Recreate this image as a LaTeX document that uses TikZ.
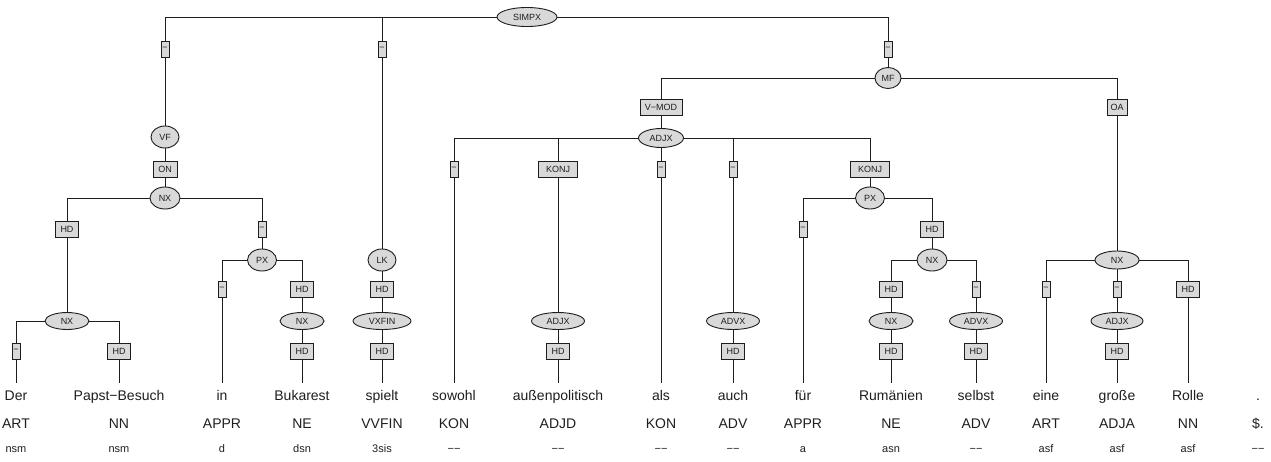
\documentclass[tikz,border=0pt]{standalone}
\usepackage{fontspec}
\setmainfont{Liberation Sans}
\usetikzlibrary{shapes.geometric}
\definecolor{nodefill}{HTML}{D9D9D9}
\definecolor{ink}{HTML}{1E1E1E}
\tikzset{
  cat/.style 2 args={ellipse, draw=ink, fill=nodefill, line width=0.9pt,
    minimum width=#1 pt, minimum height=#2 pt, inner sep=0pt,
    font=\fontsize{9}{10}\selectfont, text=ink},
  fn/.style={rectangle, draw=ink, fill=nodefill, line width=1pt,
    minimum width=#1 pt, minimum height=16pt, inner sep=0pt,
    font=\fontsize{9}{10}\selectfont, text=ink},
  wordnode/.style={anchor=base, inner sep=0pt, text height=17pt, text depth=0pt,
    font=\fontsize{14}{16}\selectfont, text=ink},
  posnode/.style={anchor=base, inner sep=0pt, font=\fontsize{14}{16}\selectfont, text=ink},
  morphnode/.style={anchor=base, inner sep=0pt, font=\fontsize{11}{13}\selectfont, text=ink},
  conn/.style={draw=ink, line width=0.9pt}
}
\begin{document}
\begin{tikzpicture}[x=1pt,y=-1pt]
\useasboundingbox (0,0) rectangle (1271,461);

% words, POS, morphology
\foreach \n/\x/\w/\p/\m in {
  1/16/Der/ART/nsm,
  2/119/Papst−Besuch/NN/nsm,
  3/222/in/APPR/d,
  4/302/Bukarest/NE/dsn,
  5/382/spielt/VVFIN/3sis,
  6/454/sowohl/KON/−−,
  7/558/außenpolitisch/ADJD/−−,
  8/661/als/KON/−−,
  9/733/auch/ADV/−−,
  10/803/für/APPR/a,
  11/891/Rumänien/NE/asn,
  12/976/selbst/ADV/−−,
  13/1046/eine/ART/asf,
  14/1117/große/ADJA/asf,
  15/1188/Rolle/NN/asf,
  16/1258/./{\$.}/−−}{
  \node[wordnode] (w\n) at (\x,400) {\w};
  \node[posnode] (p\n) at (\x,428) {\p};
  \node[morphnode] (m\n) at (\x,452) {\m};
}

% top
\node[cat={60}{19}] (s) at (527,17) {SIMPX};
\node[fn=8] (e1) at (165,49) {−};
\node[fn=8] (e2) at (382,49) {−};
\node[fn=8] (e3) at (888,49) {−};

% Vorfeld
\node[cat={28}{22}] (vf) at (165,137) {VF};
\node[fn=24] (on) at (165,169) {ON};
\node[cat={30}{22}] (nx1) at (165,198) {NX};
\node[fn=23] (hd1) at (67,229) {HD};
\node[fn=8] (e4) at (262,229) {−};
\node[cat={44}{17}] (nx2) at (67,321) {NX};
\node[fn=8] (e5) at (16,351) {−};
\node[fn=23] (hd2) at (119,351) {HD};
\node[cat={29}{22}] (px1) at (262,260) {PX};
\node[fn=8] (e6) at (222,289) {−};
\node[fn=23] (hd3) at (302,289) {HD};
\node[cat={44}{17}] (nx3) at (302,321) {NX};
\node[fn=23] (hd4) at (302,351) {HD};

% left bracket
\node[cat={28}{22}] (lk) at (382,260) {LK};
\node[fn=23] (hd5) at (382,289) {HD};
\node[cat={58}{17}] (vx) at (382,321) {VXFIN};
\node[fn=23] (hd6) at (382,351) {HD};

% Mittelfeld
\node[cat={26}{21}] (mf) at (888,78) {MF};
\node[fn=42] (vmod) at (661,107) {V−MOD};
\node[fn=20] (oa) at (1117,107) {OA};
\node[cat={45}{19}] (adjx1) at (661,138) {ADJX};
\node[fn=8] (e7) at (454,169) {−};
\node[fn=39] (k1) at (558,169) {KONJ};
\node[fn=8] (e8) at (661,169) {−};
\node[fn=8] (e9) at (733,169) {−};
\node[fn=39] (k2) at (870,169) {KONJ};
\node[cat={53}{17}] (adjx2) at (558,321) {ADJX};
\node[fn=23] (hd7) at (558,351) {HD};
\node[cat={53}{17}] (advx1) at (733,321) {ADVX};
\node[fn=23] (hd8) at (733,351) {HD};
\node[cat={29}{22}] (px2) at (870,198) {PX};
\node[fn=8] (e10) at (803,229) {−};
\node[fn=23] (hd9) at (932,229) {HD};
\node[cat={30}{22}] (nx4) at (932,260) {NX};
\node[fn=23] (hd10) at (891,289) {HD};
\node[fn=8] (e11) at (976,289) {−};
\node[cat={44}{17}] (nx5) at (891,321) {NX};
\node[fn=23] (hd11) at (891,351) {HD};
\node[cat={53}{17}] (advx2) at (976,321) {ADVX};
\node[fn=23] (hd12) at (976,351) {HD};
\node[cat={44}{18}] (nx6) at (1117,260) {NX};
\node[fn=8] (e12) at (1046,289) {−};
\node[fn=8] (e13) at (1117,289) {−};
\node[fn=23] (hd13) at (1188,289) {HD};
\node[cat={52}{17}] (adjx3) at (1117,321) {ADJX};
\node[fn=23] (hd14) at (1117,351) {HD};

% connectors
\path[conn] (s) -| (e1);
\path[conn] (s) -| (e2);
\path[conn] (s) -| (e3);
\path[conn] (e1) -- (vf);
\path[conn] (vf) -- (on);
\path[conn] (on) -- (nx1);
\path[conn] (nx1) -| (hd1);
\path[conn] (nx1) -| (e4);
\path[conn] (hd1) -- (nx2);
\path[conn] (nx2) -| (e5);
\path[conn] (nx2) -| (hd2);
\path[conn] (e5) -- (w1);
\path[conn] (hd2) -- (w2);
\path[conn] (e4) -- (px1);
\path[conn] (px1) -| (e6);
\path[conn] (px1) -| (hd3);
\path[conn] (e6) -- (w3);
\path[conn] (hd3) -- (nx3);
\path[conn] (nx3) -- (hd4);
\path[conn] (hd4) -- (w4);
\path[conn] (e2) -- (lk);
\path[conn] (lk) -- (hd5);
\path[conn] (hd5) -- (vx);
\path[conn] (vx) -- (hd6);
\path[conn] (hd6) -- (w5);
\path[conn] (e3) -- (mf);
\path[conn] (mf) -| (vmod);
\path[conn] (mf) -| (oa);
\path[conn] (vmod) -- (adjx1);
\path[conn] (adjx1) -| (e7);
\path[conn] (adjx1) -| (k1);
\path[conn] (adjx1) -- (e8);
\path[conn] (adjx1) -| (e9);
\path[conn] (adjx1) -| (k2);
\path[conn] (e7) -- (w6);
\path[conn] (k1) -- (adjx2);
\path[conn] (adjx2) -- (hd7);
\path[conn] (hd7) -- (w7);
\path[conn] (e8) -- (w8);
\path[conn] (e9) -- (advx1);
\path[conn] (advx1) -- (hd8);
\path[conn] (hd8) -- (w9);
\path[conn] (k2) -- (px2);
\path[conn] (px2) -| (e10);
\path[conn] (px2) -| (hd9);
\path[conn] (e10) -- (w10);
\path[conn] (hd9) -- (nx4);
\path[conn] (nx4) -| (hd10);
\path[conn] (nx4) -| (e11);
\path[conn] (hd10) -- (nx5);
\path[conn] (nx5) -- (hd11);
\path[conn] (hd11) -- (w11);
\path[conn] (e11) -- (advx2);
\path[conn] (advx2) -- (hd12);
\path[conn] (hd12) -- (w12);
\path[conn] (oa) -- (nx6);
\path[conn] (nx6) -| (e12);
\path[conn] (nx6) -- (e13);
\path[conn] (nx6) -| (hd13);
\path[conn] (e12) -- (w13);
\path[conn] (e13) -- (adjx3);
\path[conn] (adjx3) -- (hd14);
\path[conn] (hd14) -- (w14);
\path[conn] (hd13) -- (w15);
\end{tikzpicture}
\end{document}
